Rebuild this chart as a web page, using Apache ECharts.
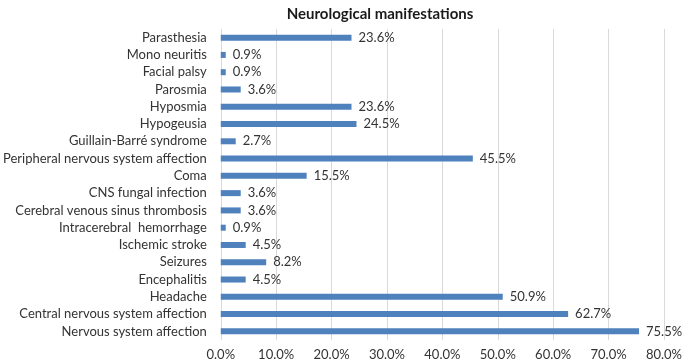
<!DOCTYPE html>
<html>
<head>
<meta charset="utf-8">
<script src="https://cdn.jsdelivr.net/npm/echarts@6/dist/echarts.min.js"></script>
<style>
  html, body { margin: 0; padding: 0; background: #fff; }
  #chart { width: 685px; height: 363px; }
</style>
</head>
<body>
<div id="chart"></div>
<script>
// categories bottom to top, as on the y axis
const categories = [
  'Nervous system affection',
  'Central nervous system affection',
  'Headache',
  'Encephalitis',
  'Seizures',
  'Ischemic stroke',
  'Intracerebral  hemorrhage',
  'Cerebral venous sinus thrombosis',
  'CNS fungal infection',
  'Coma',
  'Peripheral nervous system affection',
  'Guillain-Barré syndrome',
  'Hypogeusia',
  'Hyposmia',
  'Parosmia',
  'Facial palsy',
  'Mono neuritis',
  'Parasthesia'
]
const percents = [75.5, 62.7, 50.9, 4.5, 8.2, 4.5, 0.9, 3.6, 3.6, 15.5, 45.5, 2.7, 24.5, 23.6, 3.6, 0.9, 0.9, 23.6]

const chart = echarts.init(document.getElementById('chart'))
const font = 'Lato, "Liberation Sans", sans-serif'

chart.setOption({
  animation: false,
  title: {
    text: 'Neurological manifestations',
    left: 375,
    top: 2,
    textAlign: 'center',
    textStyle: { fontFamily: font, fontSize: 15, fontWeight: 'bold', color: '#1a1a1a' }
  },
  grid: { left: 219, right: 18, top: 29, bottom: 23, containLabel: false },
  xAxis: {
    type: 'value',
    min: 0,
    max: 80,
    interval: 10,
    axisLine: { show: false },
    axisTick: { show: false },
    splitLine: { lineStyle: { color: '#d9d9d9' } },
    axisLabel: {
      margin: 8,
      fontFamily: font,
      fontSize: 13,
      color: '#333',
      formatter: (v) => v.toFixed(1) + '%'
    }
  },
  yAxis: {
    type: 'category',
    data: categories,
    axisLine: { show: false },
    axisTick: { show: false },
    axisLabel: { margin: 14, fontFamily: font, fontSize: 13, color: '#333' }
  },
  series: [
    {
      type: 'bar',
      data: percents,
      barWidth: 6,
      itemStyle: { color: '#4f81bd' },
      label: {
        show: true,
        position: 'right',
        distance: 7,
        fontFamily: font,
        fontSize: 13,
        color: '#333',
        formatter: (p) => p.value.toFixed(1) + '%'
      }
    }
  ]
})
</script>
</body>
</html>
